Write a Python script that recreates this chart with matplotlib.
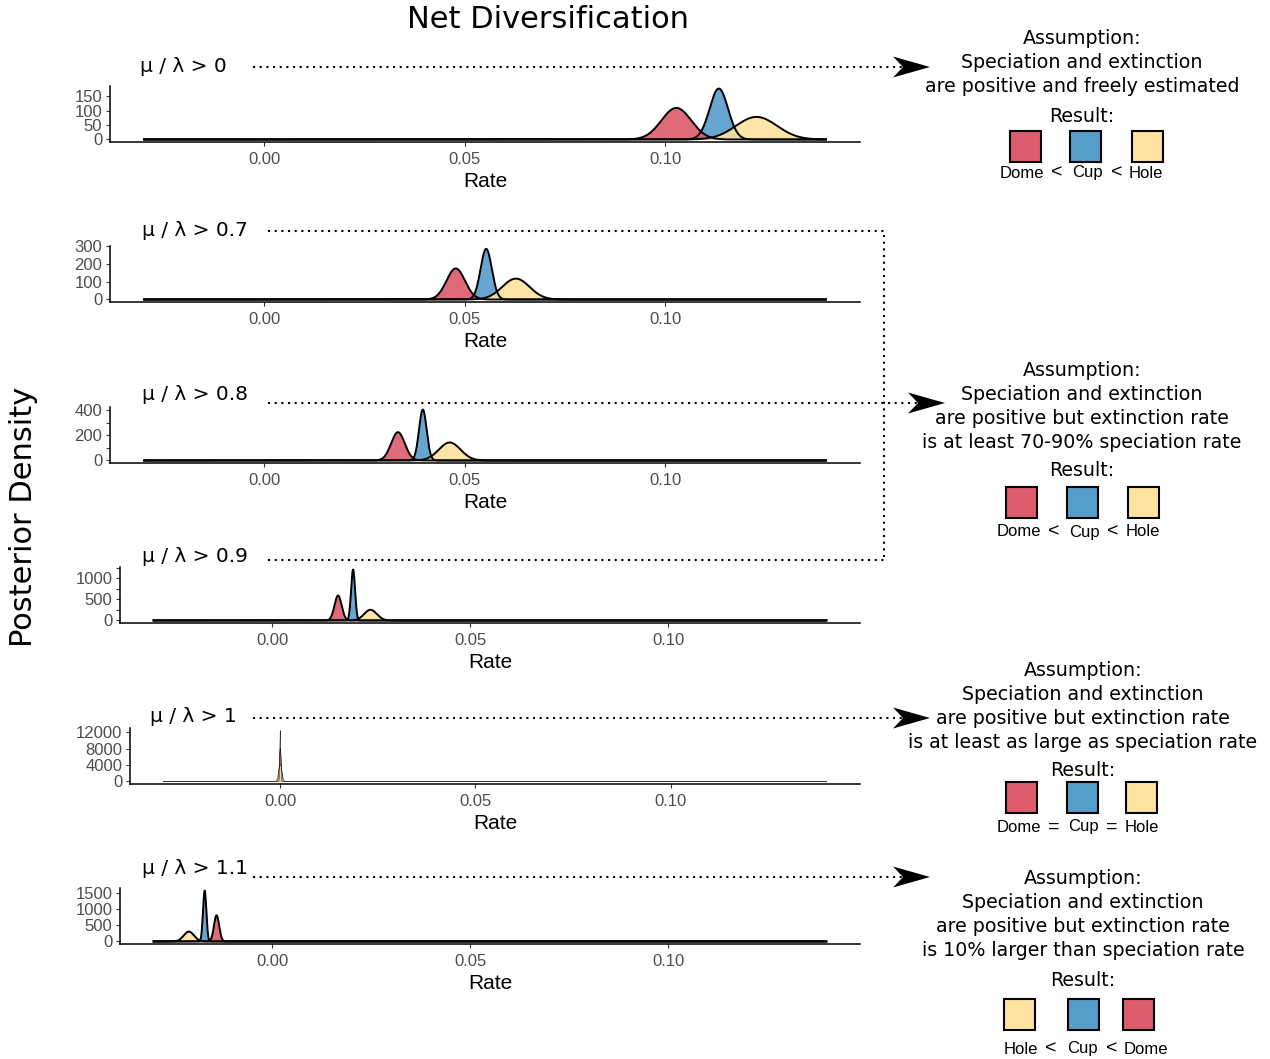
import matplotlib

matplotlib.use("Agg")
import matplotlib.pyplot as plt
import numpy as np
from matplotlib.patches import Polygon, Rectangle

# ---------------------------------------------------------------- data
panel_labels = ["μ / λ > 0", "μ / λ > 0.7", "μ / λ > 0.8",
                "μ / λ > 0.9", "μ / λ > 1", "μ / λ > 1.1"]
groups = ["Cup", "Dome", "Hole"]  # drawing order (factor order)

# location of each posterior (net diversification rate), one value per panel
cup_mean = [0.1133, 0.0553, 0.0395, 0.0204, 0.0, -0.0171]
dome_mean = [0.1027, 0.0477, 0.0333, 0.0166, 0.0, -0.0141]
hole_mean = [0.1227, 0.0627, 0.0462, 0.0248, 0.0, -0.0211]
# spread of each posterior
cup_sd = [0.0023, 0.0014, 0.00095, 0.0005, 0.00012, 0.00042]
dome_sd = [0.0037, 0.0023, 0.0017, 0.0009, 0.00025, 0.00065]
hole_sd = [0.0051, 0.0034, 0.0027, 0.0016, 0.0004, 0.0013]
# peak posterior density
cup_peak = [176, 284, 405, 1203, 12400, 1580]
dome_peak = [109, 174, 225, 590, 8000, 814]
hole_peak = [78, 117, 143, 252, 4200, 306]

rate_range = (-0.030, 0.140)
x_ticks = [0.00, 0.05, 0.10]
y_ticks = [[0, 50, 100, 150], [0, 100, 200, 300], [0, 200, 400],
           [0, 500, 1000], [0, 4000, 8000, 12000], [0, 500, 1000, 1500]]
y_minor = [[], [], [100, 300], [250, 750, 1250], [], []]

assumptions = [
    ["Assumption:", "Speciation and extinction", "are positive and freely estimated"],
    ["Assumption:", "Speciation and extinction", "are positive but extinction rate",
     "is at least 70-90% speciation rate"],
    ["Assumption:", "Speciation and extinction", "are positive but extinction rate",
     "is at least as large as speciation rate"],
    ["Assumption:", "Speciation and extinction", "are positive but extinction rate",
     "is 10% larger than speciation rate"],
]
result_order = [["Dome", "Cup", "Hole"], ["Dome", "Cup", "Hole"],
                ["Dome", "Cup", "Hole"], ["Hole", "Cup", "Dome"]]
result_signs = ["<", "<", "=", "<"]

colors = {"Cup": "#559DCB", "Dome": "#DC5B6C", "Hole": "#FEE39E"}
means = {"Cup": cup_mean, "Dome": dome_mean, "Hole": hole_mean}
sds = {"Cup": cup_sd, "Dome": dome_sd, "Hole": hole_sd}
peaks = {"Cup": cup_peak, "Dome": dome_peak, "Hole": hole_peak}

# ---------------------------------------------------------------- layout (pixels)
W, H = 1270, 1059
panel_left = [110, 110, 110, 120, 130, 120]
panel_bottom = [142, 302, 463, 623, 784, 944]
panel_right = 860
panel_h = 56
label_pos = [(140, 66), (142, 231), (142, 395), (142, 556), (150, 717), (142, 868)]
line_y = [67, 231, 403, 560, 718, 877]
line_x0 = [253, 268, 268, 268, 253, 253]

SANS = "Liberation Sans"
TICK_GREY = "#4D4D4D"

fig = plt.figure(figsize=(W / 100, H / 100), dpi=100)
fig.patch.set_facecolor("white")

xlo = rate_range[0] - 0.05 * (rate_range[1] - rate_range[0])
xhi = rate_range[1] + 0.05 * (rate_range[1] - rate_range[0])

for i in range(6):
    L, B = panel_left[i], panel_bottom[i]
    ax = fig.add_axes([L / W, 1 - B / H, (panel_right - L) / W, panel_h / H])
    ax.set_facecolor("none")

    grid = np.linspace(rate_range[0], rate_range[1], 4000)
    grid = np.union1d(grid, [means[g][i] for g in groups])
    lw = 0.3 if i == 4 else 1.4
    ymax = 0
    for g in groups:
        m, s, p = means[g][i], sds[g][i], peaks[g][i]
        dens = p * np.exp(-0.5 * ((grid - m) / s) ** 2)
        ymax = max(ymax, dens.max())
        ax.fill_between(grid, 0, dens, facecolor=colors[g], alpha=0.9,
                        edgecolor="none", zorder=2)
        ax.plot(grid, dens, color="black", lw=lw, zorder=3)

    ax.set_xlim(xlo, xhi)
    ax.set_ylim(-0.05 * ymax, 1.05 * ymax)
    for side in ["top", "right"]:
        ax.spines[side].set_visible(False)
    for side in ["left", "bottom"]:
        ax.spines[side].set_linewidth(1.1)

    ax.set_xticks(x_ticks)
    ax.set_xticklabels([f"{t:.2f}" for t in x_ticks])
    ax.set_yticks(y_ticks[i])
    ax.set_yticklabels([str(t) for t in y_ticks[i]])
    if y_minor[i]:
        ax.set_yticks(y_minor[i], minor=True)
    ax.tick_params(axis="both", which="both", length=3, width=0.8, color="#333333",
                   labelcolor=TICK_GREY, labelsize=12, pad=2.5)
    ax.tick_params(axis="x", pad=4)
    for lab in ax.get_xticklabels() + ax.get_yticklabels():
        lab.set_family(SANS)
    ax.set_xlabel("Rate", family=SANS, fontsize=15, labelpad=4)

    fig.text(label_pos[i][0] / W, 1 - label_pos[i][1] / H, panel_labels[i],
             fontsize=14.5, ha="left", va="center")

fig.text(548 / W, 1 - 19 / H, "Net Diversification", fontsize=22, ha="center", va="center")
fig.text(24 / W, 1 - 517 / H, "Posterior Density", fontsize=22, rotation=90,
         ha="center", va="center")

# ---------------------------------------------------------------- annotation overlay
ov = fig.add_axes([0, 0, 1, 1], zorder=5)
ov.set_xlim(0, W)
ov.set_ylim(H, 0)
ov.axis("off")
ov.patch.set_alpha(0)

dot = dict(color="black", lw=1.5, linestyle=(0, (1, 2.2)), solid_capstyle="round")


def arrow_head(tip_x, y):
    ov.add_patch(Polygon([(tip_x, y), (tip_x - 37, y - 10.5), (tip_x - 27, y),
                          (tip_x - 37, y + 10.5)], closed=True, color="black", lw=0))


# panel 1, 3, 5, 6 arrows
for i, tip in [(0, 930), (2, 945), (4, 930), (5, 930)]:
    ov.plot([line_x0[i], tip - 28], [line_y[i], line_y[i]], **dot)
    arrow_head(tip, line_y[i])
# bracket joining 0.7 - 0.9
ov.plot([line_x0[1], 884, 884], [line_y[1], line_y[1], line_y[3]], **dot)
ov.plot([line_x0[3], 884], [line_y[3], line_y[3]], **dot)

block_cx = [1082, 1082, 1083, 1083]
block_lines_y = [[38, 62, 86], [370, 394, 418, 442], [670, 694, 718, 742], [879, 903, 927, 951]]
result_y = [116, 471, 770, 981]
square_y = [146, 502, 797, 1014]
square_x = [[1025, 1085, 1147], [1021, 1082, 1143], [1021, 1082, 1141], [1019, 1083, 1138]]
token_y = [173, 532, 827, 1049]
token_x = [[1022, 1057, 1087, 1117, 1146], [1019, 1054, 1084, 1113, 1143],
           [1019, 1054, 1083, 1112, 1142], [1021, 1051, 1082, 1112, 1146]]

for b in range(4):
    for text, y in zip(assumptions[b], block_lines_y[b]):
        ov.text(block_cx[b], y, text, fontsize=13.7, ha="center", va="center")
    ov.text(block_cx[b], result_y[b], "Result:", fontsize=13.7, ha="center", va="center")
    for g, cx in zip(result_order[b], square_x[b]):
        ov.add_patch(Rectangle((cx - 15.5, square_y[b] - 15.5), 31, 31,
                               facecolor=colors[g], edgecolor="black", lw=1.5))
    tokens = [result_order[b][0], result_signs[b], result_order[b][1],
              result_signs[b], result_order[b][2]]
    for k, (tok, tx) in enumerate(zip(tokens, token_x[b])):
        ov.text(tx, token_y[b], tok, family=SANS, fontsize=14 if k % 2 else 12,
                ha="center", va="center")

fig.savefig("out.png", dpi=100, facecolor="white")
